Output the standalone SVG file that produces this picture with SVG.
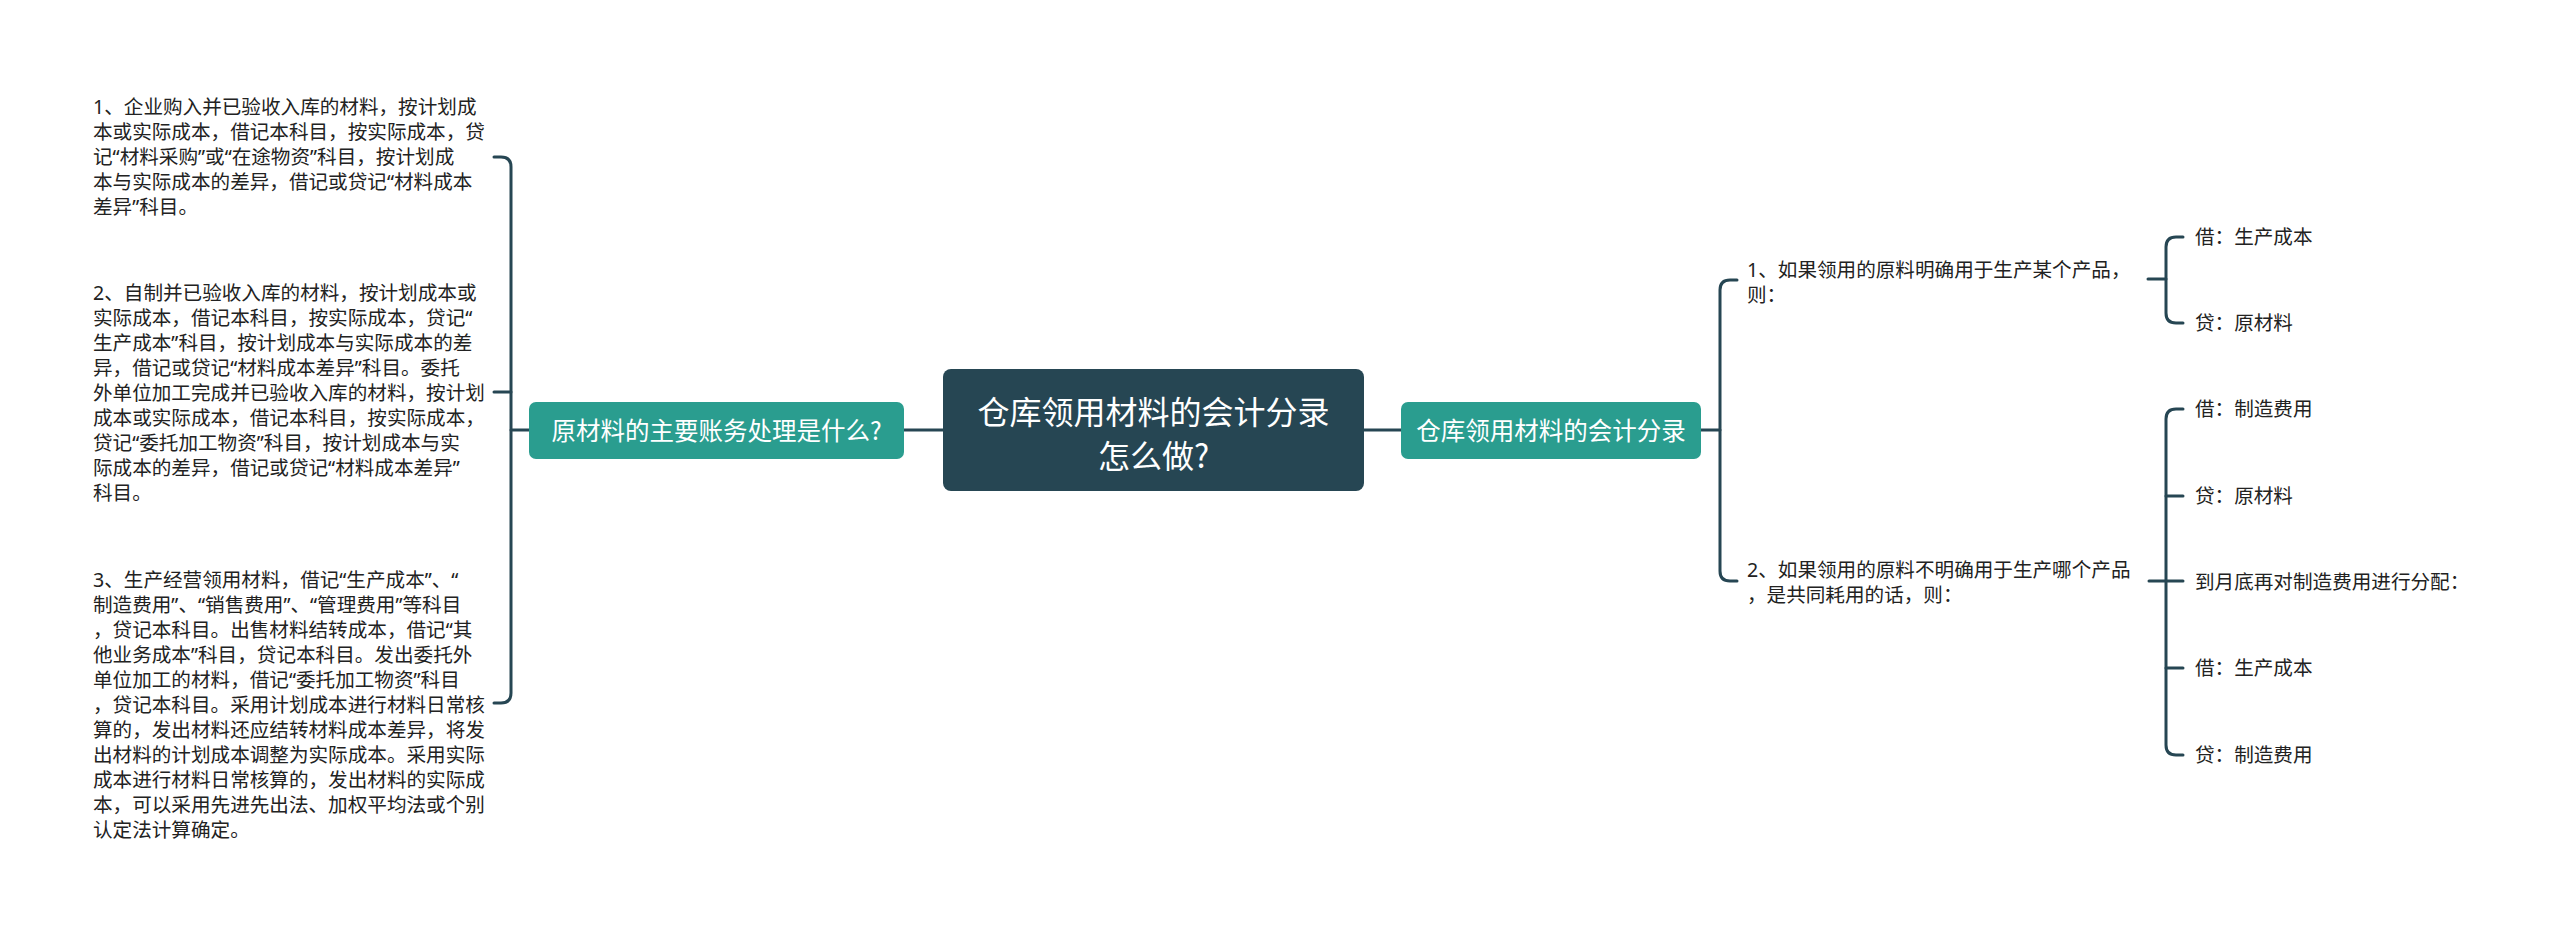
<svg xmlns="http://www.w3.org/2000/svg" width="2560" height="936" viewBox="0 0 2560 936">
<style>
.bg{fill:#ffffff}
.ln{fill:none;stroke:#264653;stroke-width:3;stroke-linecap:round;stroke-linejoin:round}
.t{font-family:"Noto Sans","Noto Sans CJK SC",sans-serif;font-size:19.6px;fill:#222222}
.root{fill:#264653}
.sub{fill:#2a9d8f}
.rt{font-family:"Noto Sans CJK SC","Noto Sans",sans-serif;font-size:32px;fill:#ffffff;text-anchor:middle}
.st{font-family:"Noto Sans CJK SC","Noto Sans",sans-serif;font-size:24.5px;fill:#ffffff;text-anchor:middle}
</style>
<rect class="bg" x="0" y="0" width="2560" height="936"/>
<g id="connectors">
<path class="ln" d="M904 430 H943"/>
<path class="ln" d="M1364 430 H1401"/>
<path class="ln" d="M529 430 H511"/>
<path class="ln" d="M494 157 H501 Q511 157 511 167 V693 Q511 703 501 703 H494"/>
<path class="ln" d="M494 392 H511"/>
<path class="ln" d="M1701 430 H1720"/>
<path class="ln" d="M1737 280 H1730 Q1720 280 1720 290 V571 Q1720 581 1730 581 H1737"/>
<path class="ln" d="M2148 279 H2166"/>
<path class="ln" d="M2183 237 H2176 Q2166 237 2166 247 V313 Q2166 323 2176 323 H2183"/>
<path class="ln" d="M2149 581 H2183"/>
<path class="ln" d="M2183 409 H2176 Q2166 409 2166 419 V745 Q2166 755 2176 755 H2183"/>
<path class="ln" d="M2166 496 H2183"/>
<path class="ln" d="M2166 668 H2183"/>
</g>
<g id="root">
<rect class="root" x="943" y="369" width="421" height="122" rx="8"/>
<text class="rt" x="1153.5" y="424">仓库领用材料的会计分录</text>
<text class="rt" x="1153.5" y="468">怎么做?</text>
</g>
<g id="left-topic">
<rect class="sub" x="529" y="402" width="375" height="57" rx="7"/>
<text class="st" x="716.5" y="439.5">原材料的主要账务处理是什么?</text>
</g>
<g id="right-topic">
<rect class="sub" x="1401" y="402" width="300" height="57" rx="7"/>
<text class="st" x="1551" y="439.5">仓库领用材料的会计分录</text>
</g>
<g id="left-1">
<text class="t" x="93" y="114">1、企业购入并已验收入库的材料，按计划成</text>
<text class="t" x="93" y="139">本或实际成本，借记本科目，按实际成本，贷</text>
<text class="t" x="93" y="164">记“材料采购”或“在途物资”科目，按计划成</text>
<text class="t" x="93" y="189">本与实际成本的差异，借记或贷记“材料成本</text>
<text class="t" x="93" y="214">差异”科目。</text>
</g>
<g id="left-2">
<text class="t" x="93" y="300">2、自制并已验收入库的材料，按计划成本或</text>
<text class="t" x="93" y="325">实际成本，借记本科目，按实际成本，贷记“</text>
<text class="t" x="93" y="350">生产成本”科目，按计划成本与实际成本的差</text>
<text class="t" x="93" y="375">异，借记或贷记“材料成本差异”科目。委托</text>
<text class="t" x="93" y="400">外单位加工完成并已验收入库的材料，按计划</text>
<text class="t" x="93" y="425">成本或实际成本，借记本科目，按实际成本，</text>
<text class="t" x="93" y="450">贷记“委托加工物资”科目，按计划成本与实</text>
<text class="t" x="93" y="475">际成本的差异，借记或贷记“材料成本差异”</text>
<text class="t" x="93" y="500">科目。</text>
</g>
<g id="left-3">
<text class="t" x="93" y="587">3、生产经营领用材料，借记“生产成本”、“</text>
<text class="t" x="93" y="612">制造费用”、“销售费用”、“管理费用”等科目</text>
<text class="t" x="93" y="637">，贷记本科目。出售材料结转成本，借记“其</text>
<text class="t" x="93" y="662">他业务成本”科目，贷记本科目。发出委托外</text>
<text class="t" x="93" y="687">单位加工的材料，借记“委托加工物资”科目</text>
<text class="t" x="93" y="712">，贷记本科目。采用计划成本进行材料日常核</text>
<text class="t" x="93" y="737">算的，发出材料还应结转材料成本差异，将发</text>
<text class="t" x="93" y="762">出材料的计划成本调整为实际成本。采用实际</text>
<text class="t" x="93" y="787">成本进行材料日常核算的，发出材料的实际成</text>
<text class="t" x="93" y="812">本，可以采用先进先出法、加权平均法或个别</text>
<text class="t" x="93" y="837">认定法计算确定。</text>
</g>
<g id="right-1">
<text class="t" x="1747" y="277">1、如果领用的原料明确用于生产某个产品，</text>
<text class="t" x="1747" y="302">则：</text>
</g>
<g id="right-2">
<text class="t" x="1747" y="577">2、如果领用的原料不明确用于生产哪个产品</text>
<text class="t" x="1747" y="602">，是共同耗用的话，则：</text>
</g>
<g id="leaf-1"><text class="t" x="2195" y="244">借：生产成本</text></g>
<g id="leaf-2"><text class="t" x="2195" y="330">贷：原材料</text></g>
<g id="leaf-3"><text class="t" x="2195" y="416">借：制造费用</text></g>
<g id="leaf-4"><text class="t" x="2195" y="503">贷：原材料</text></g>
<g id="leaf-5"><text class="t" x="2195" y="589">到月底再对制造费用进行分配：</text></g>
<g id="leaf-6"><text class="t" x="2195" y="675">借：生产成本</text></g>
<g id="leaf-7"><text class="t" x="2195" y="762">贷：制造费用</text></g>
</svg>
